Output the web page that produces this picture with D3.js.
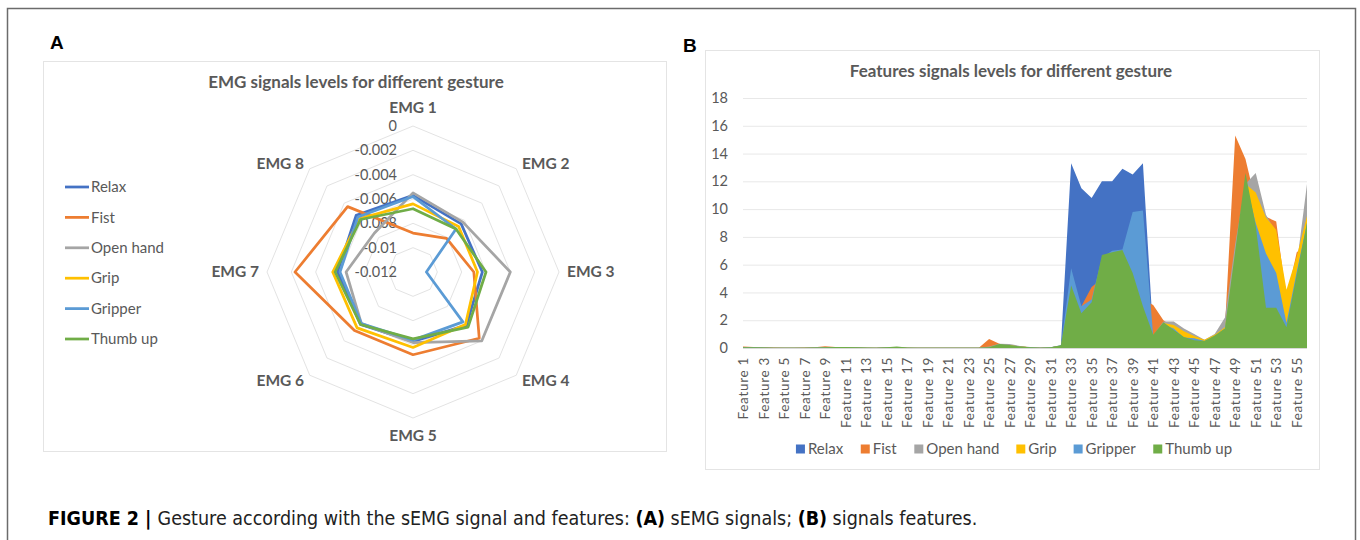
<!DOCTYPE html>
<html>
<head>
<meta charset="utf-8">
<script src="https://cdn.jsdelivr.net/npm/d3@7"></script>
<style>
  body { margin: 0; background: #fff; }
  svg text { font-family: Lato, "Open Sans", sans-serif; fill: #595959; }
  .caption, .caption tspan { font-family: "Liberation Sans Narrow", "Arial Narrow", "DejaVu Sans Condensed", sans-serif; fill: #222; }
</style>
</head>
<body>
<svg id="figure" width="1360" height="540"></svg>
<script>
// gestures and colours
const gestures = ['Relax', 'Fist', 'Open hand', 'Grip', 'Gripper', 'Thumb up'];
const gestureColors = ['#4472C4', '#ED7D31', '#A5A5A5', '#FFC000', '#5B9BD5', '#70AD47'];

// panel A: EMG levels (radar)
const emgAxes = ['EMG 1', 'EMG 2', 'EMG 3', 'EMG 4', 'EMG 5', 'EMG 6', 'EMG 7', 'EMG 8'];
const emgTicks = [0, -0.002, -0.004, -0.006, -0.008, -0.01, -0.012];
const relaxEmg    = [-0.0057, -0.0064, -0.0063, -0.0058, -0.0063, -0.0059, -0.0058, -0.0054];
const fistEmg     = [-0.0088, -0.0081, -0.0070, -0.0043, -0.0052, -0.0052, -0.0023, -0.0044];
const openHandEmg = [-0.0055, -0.0062, -0.0040, -0.0040, -0.0062, -0.0060, -0.0065, -0.0075];
const gripEmg     = [-0.0064, -0.0067, -0.0067, -0.0059, -0.0058, -0.0055, -0.0054, -0.0058];
const gripperEmg  = [-0.0058, -0.0070, -0.0109, -0.0062, -0.0064, -0.0060, -0.0060, -0.0056];
const thumbUpEmg  = [-0.0068, -0.0070, -0.0060, -0.0056, -0.0065, -0.0059, -0.0056, -0.0059];

// panel B: feature levels (area)
const features = d3.range(1, 57).map(i => `Feature ${i}`);
const featureTicks = [0, 2, 4, 6, 8, 10, 12, 14, 16, 18];
const relaxFeat = [
  0.05, 0.05, 0.03, 0.02, 0.02, 0.02, 0.02, 0.03, 0.05, 0.05,
  0.04, 0.03, 0.02, 0.02, 0.03, 0.04, 0.02, 0.01, 0.01, 0.01,
  0.01, 0.01, 0.01, 0.01, 0.1, 0.15, 0.1, 0.08, 0.05, 0.03,
  0.05, 0.2, 13.3, 11.5, 10.8, 12.0, 12.0, 12.9, 12.5, 13.3,
  1.0, 1.5, 1.2, 0.7, 0.6, 0.4, 0.8, 1.3, 6.0, 11.0,
  8.5, 5.5, 4.5, 1.5, 5.0, 8.5];
const fistFeat = [
  0.1, 0.08, 0.05, 0.03, 0.02, 0.02, 0.03, 0.05, 0.12, 0.08,
  0.06, 0.04, 0.02, 0.02, 0.03, 0.05, 0.02, 0.01, 0.01, 0.01,
  0.01, 0.01, 0.01, 0.02, 0.65, 0.3, 0.15, 0.1, 0.05, 0.02,
  0.05, 0.15, 3.5, 3.0, 4.4, 5.0, 5.5, 5.5, 4.5, 3.5,
  3.1, 2.0, 1.5, 1.0, 0.8, 0.5, 0.9, 1.5, 15.3, 13.6,
  10.5, 9.45, 9.1, 3.5, 6.9, 7.5];
const openHandFeat = [
  0.05, 0.05, 0.03, 0.02, 0.02, 0.02, 0.02, 0.03, 0.05, 0.05,
  0.04, 0.03, 0.02, 0.02, 0.03, 0.05, 0.02, 0.01, 0.01, 0.01,
  0.01, 0.01, 0.01, 0.01, 0.1, 0.3, 0.28, 0.15, 0.08, 0.03,
  0.05, 0.15, 4.0, 2.3, 3.0, 6.0, 6.5, 6.8, 5.0, 2.8,
  0.9, 1.9, 1.9, 1.4, 1.0, 0.6, 1.0, 2.2, 7.5, 11.8,
  12.6, 9.6, 8.3, 2.0, 6.0, 11.8];
const gripFeat = [
  0.05, 0.05, 0.03, 0.02, 0.02, 0.02, 0.02, 0.03, 0.05, 0.05,
  0.04, 0.03, 0.02, 0.02, 0.03, 0.05, 0.02, 0.01, 0.01, 0.01,
  0.01, 0.01, 0.01, 0.01, 0.05, 0.2, 0.2, 0.12, 0.06, 0.02,
  0.05, 0.15, 4.0, 2.2, 3.0, 6.0, 6.5, 6.8, 5.0, 2.8,
  0.9, 1.8, 1.65, 1.2, 0.86, 0.6, 0.95, 1.5, 6.5, 11.8,
  11.2, 9.4, 8.5, 4.2, 6.6, 9.5];
const gripperFeat = [
  0.05, 0.05, 0.03, 0.02, 0.02, 0.02, 0.02, 0.03, 0.05, 0.05,
  0.04, 0.03, 0.02, 0.02, 0.03, 0.05, 0.02, 0.01, 0.01, 0.01,
  0.01, 0.01, 0.01, 0.01, 0.05, 0.15, 0.15, 0.1, 0.05, 0.02,
  0.05, 0.15, 5.75, 3.0, 3.5, 6.5, 7.0, 7.1, 9.8, 9.9,
  0.9, 1.7, 1.4, 0.75, 0.7, 0.5, 0.85, 1.4, 6.5, 12.0,
  9.0, 6.8, 5.4, 1.8, 5.5, 9.0];
const thumbUpFeat = [
  0.05, 0.05, 0.03, 0.02, 0.02, 0.02, 0.02, 0.03, 0.06, 0.08,
  0.08, 0.05, 0.03, 0.02, 0.05, 0.1, 0.03, 0.01, 0.01, 0.01,
  0.01, 0.01, 0.01, 0.01, 0.05, 0.28, 0.22, 0.1, 0.05, 0.02,
  0.05, 0.2, 4.5, 2.5, 3.3, 6.7, 6.9, 7.05, 5.4, 3.0,
  0.95, 1.85, 1.3, 0.8, 0.55, 0.5, 0.9, 1.4, 7.0, 12.6,
  8.8, 2.9, 2.9, 1.5, 5.3, 9.0];

const emgSeries = [relaxEmg, fistEmg, openHandEmg, gripEmg, gripperEmg, thumbUpEmg];
const featSeries = [relaxFeat, fistFeat, openHandFeat, gripFeat, gripperFeat, thumbUpFeat];

const svg = d3.select('#figure');

// frame and panel boxes
svg.append('rect')
  .attr('x', 7.5).attr('y', 8.5).attr('width', 1348).attr('height', 560)
  .style('fill', 'none').style('stroke', '#6b6b6b').style('stroke-width', 1.5);

svg.append('rect')
  .attr('x', 43.5).attr('y', 61.5).attr('width', 623).attr('height', 390)
  .style('fill', 'none').style('stroke', '#e4e4e4');

svg.append('rect')
  .attr('x', 705.5).attr('y', 50.5).attr('width', 614).attr('height', 419)
  .style('fill', 'none').style('stroke', '#e4e4e4');

svg.append('text').attr('x', 50).attr('y', 49).text('A')
  .style('font-family', 'Arial, "Liberation Sans", sans-serif')
  .style('font-weight', 'bold').style('font-size', '19px').style('fill', '#000');
svg.append('text').attr('x', 683).attr('y', 52).text('B')
  .style('font-family', 'Arial, "Liberation Sans", sans-serif')
  .style('font-weight', 'bold').style('font-size', '19px').style('fill', '#000');

///////////////////////////// panel A
function drawRadar() {
  const cx = 413, cy = 272, R = 146;
  const g = svg.append('g').attr('transform', `translate(${cx},${cy})`);

  const r = d3.scaleLinear().domain([-0.012, 0]).range([0, R]);
  const angle = d3.scaleLinear().domain([0, emgAxes.length]).range([0, 2 * Math.PI]);

  const ring = d3.lineRadial()
    .angle((d, i) => angle(i))
    .radius(d => r(d))
    .curve(d3.curveLinearClosed);

  g.selectAll('.ring')
    .data(emgTicks.filter(t => t !== -0.012))
    .join('path')
    .attr('class', 'ring')
    .attr('d', t => ring(emgAxes.map(() => t)))
    .style('fill', 'none')
    .style('stroke', '#e3e3e3')
    .style('stroke-width', 1);

  g.selectAll('.tick')
    .data(emgTicks)
    .join('text')
    .attr('class', 'tick')
    .attr('x', -16)
    .attr('y', t => -r(t))
    .attr('dy', '0.35em')
    .attr('text-anchor', 'end')
    .style('font-size', '14.5px')
    .text(t => String(t));

  g.selectAll('.axis-label')
    .data(emgAxes)
    .join('text')
    .attr('class', 'axis-label')
    .each(function (d, i) {
      const a = angle(i);
      const s = Math.sin(a), c = Math.cos(a);
      const vertical = Math.abs(s) < 0.01;
      const rr = vertical ? R + 18 : R + 8;
      d3.select(this)
        .attr('x', rr * s)
        .attr('y', -rr * c)
        .attr('text-anchor', vertical ? 'middle' : (s > 0 ? 'start' : 'end'));
    })
    .attr('dy', '0.35em')
    .style('font-size', '15.5px')
    .style('font-weight', 'bold')
    .text(d => d);

  const line = d3.lineRadial()
    .angle((d, i) => angle(i))
    .radius(d => r(d))
    .curve(d3.curveLinearClosed);

  g.selectAll('.series')
    .data(emgSeries)
    .join('path')
    .attr('class', 'series')
    .attr('d', d => line(d))
    .style('fill', 'none')
    .style('stroke', (d, i) => gestureColors[i])
    .style('stroke-width', 2.75)
    .style('stroke-linejoin', 'round');

  svg.append('text')
    .attr('x', 356).attr('y', 82)
    .attr('text-anchor', 'middle')
    .attr('dy', '0.35em')
    .style('font-size', '17px')
    .style('font-weight', 'bold')
    .text('EMG signals levels for different gesture');

  const legend = svg.append('g')
    .selectAll('g')
    .data(gestures)
    .join('g')
    .attr('transform', (d, i) => `translate(65, ${187 + i * 30.4})`);

  legend.append('line')
    .attr('x1', 0).attr('x2', 24)
    .style('stroke', (d, i) => gestureColors[i])
    .style('stroke-width', 2.75);

  legend.append('text')
    .attr('x', 26)
    .attr('dy', '0.35em')
    .style('font-size', '15px')
    .text(d => d);
}

///////////////////////////// panel B
function drawAreas() {
  const x = d3.scalePoint().domain(features).range([743, 1307]);
  const y = d3.scaleLinear().domain([0, 18]).range([348, 98]);

  svg.append('g')
    .attr('transform', 'translate(743,0)')
    .call(d3.axisLeft(y).tickValues(featureTicks).tickSize(-564).tickFormat(d3.format('d')))
    .call(g => g.select('.domain').remove())
    .call(g => g.selectAll('.tick line').style('stroke', '#e8e8e8'))
    .call(g => g.selectAll('.tick text')
      .attr('x', -15)
      .style('font-family', 'Lato, sans-serif')
      .style('font-size', '14.5px')
      .style('fill', '#595959'));

  const area = d3.area()
    .x((d, i) => x(features[i]))
    .y0(y(0))
    .y1(d => y(d));

  svg.append('g')
    .selectAll('path')
    .data(featSeries)
    .join('path')
    .attr('d', d => area(d))
    .style('fill', (d, i) => gestureColors[i]);

  svg.append('line')
    .attr('x1', 743).attr('x2', 1307)
    .attr('y1', y(0) + 0.5).attr('y2', y(0) + 0.5)
    .style('stroke', '#d9d9d9');

  svg.append('g')
    .selectAll('text')
    .data(features.filter((f, i) => i % 2 === 0))
    .join('text')
    .attr('transform', d => `translate(${x(d) + 5}, 357) rotate(-90)`)
    .attr('text-anchor', 'end')
    .style('font-size', '13.5px')
    .style('letter-spacing', '0.7px')
    .text(d => d);

  svg.append('text')
    .attr('x', 1011).attr('y', 71)
    .attr('text-anchor', 'middle')
    .attr('dy', '0.35em')
    .style('font-size', '17px')
    .style('font-weight', 'bold')
    .text('Features signals levels for different gesture');

  // legend, centred under the plot
  const legend = svg.append('g').attr('transform', 'translate(0, 449)');
  const items = legend.selectAll('g')
    .data(gestures)
    .join('g');
  items.append('rect')
    .attr('y', -4.5).attr('width', 9).attr('height', 9)
    .style('fill', (d, i) => gestureColors[i]);
  items.append('text')
    .attr('x', 12)
    .attr('dy', '0.35em')
    .style('font-size', '15px')
    .text(d => d);

  const widths = [];
  items.each(function () { widths.push(this.getBBox().width); });
  const gap = 17;
  const total = d3.sum(widths) + gap * (widths.length - 1);
  let pos = 1014 - total / 2;
  items.attr('transform', (d, i) => {
    const t = `translate(${pos}, 0)`;
    pos += widths[i] + gap;
    return t;
  });
}

drawRadar();
drawAreas();

// caption
const caption = svg.append('text')
  .attr('class', 'caption')
  .attr('x', 48).attr('y', 525)
  .style('font-size', '19.5px');
caption.append('tspan').style('font-weight', 'bold').style('fill', '#000').text('FIGURE 2 | ');
caption.append('tspan').text('Gesture according with the sEMG signal and features: ');
caption.append('tspan').style('font-weight', 'bold').style('fill', '#000').text('(A)');
caption.append('tspan').text(' sEMG signals; ');
caption.append('tspan').style('font-weight', 'bold').style('fill', '#000').text('(B)');
caption.append('tspan').text(' signals features.');
</script>
</body>
</html>
